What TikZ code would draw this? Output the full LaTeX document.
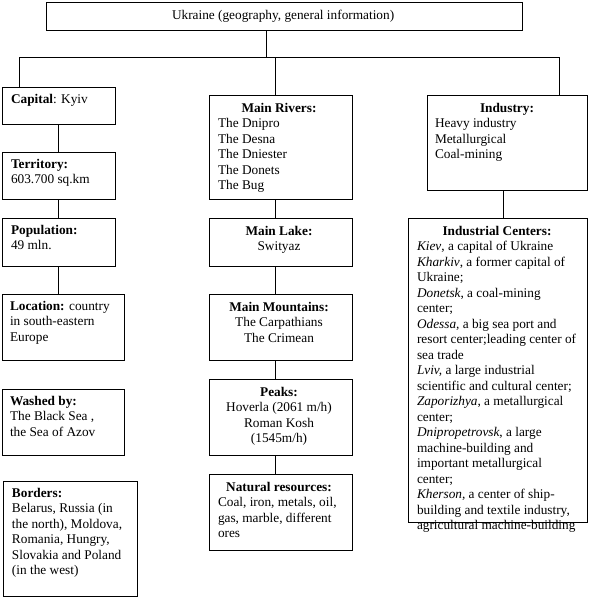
\documentclass[tikz,border=0pt]{standalone}
\usepackage{fontspec}
\setmainfont{Liberation Serif}
\newcommand\Sx{\rule{0pt}{11pt}}
\begin{document}
\begin{tikzpicture}[x=1pt,y=-1pt,
  box/.style={draw, line width=0.8pt, anchor=north west, inner sep=0pt, outer sep=0pt},
  txt/.style={inner sep=0pt, outer sep=0pt, font=\fontsize{13.3}{15.5}\selectfont},
  tl/.style={txt, align=left, anchor=north west},
  tc/.style={txt, align=center, anchor=north},
  link/.style={line width=0.8pt}]
\useasboundingbox (0,0) rectangle (589,598);
% boxes
\node[box, minimum width=476pt, minimum height=28pt] (top) at (46,2) {};
\node[box, minimum width=113pt, minimum height=37pt] (capital) at (2,87) {};
\node[box, minimum width=113pt, minimum height=47pt] (territory) at (2,152) {};
\node[box, minimum width=113pt, minimum height=48pt] (population) at (2,218) {};
\node[box, minimum width=122pt, minimum height=66pt] (location) at (2,294) {};
\node[box, minimum width=122pt, minimum height=66pt] (washed) at (2,389) {};
\node[box, minimum width=134pt, minimum height=115pt] (borders) at (3,481) {};
\node[box, minimum width=143pt, minimum height=104pt] (rivers) at (209,95) {};
\node[box, minimum width=143pt, minimum height=48pt] (lake) at (209,218) {};
\node[box, minimum width=143pt, minimum height=66pt] (mountains) at (209,294) {};
\node[box, minimum width=143pt, minimum height=76pt] (peaks) at (209,379) {};
\node[box, minimum width=143pt, minimum height=76pt] (resources) at (209,474) {};
\node[box, minimum width=160pt, minimum height=95pt] (industry) at (427,95) {};
\node[box, minimum width=179pt, minimum height=304pt] (centers) at (408,218) {};
% texts
\node[tl] (ttop) at (172,8) {\Sx Ukraine (geography, general information)};
\node[tl] (tcapital) at (11,92) {\Sx\textbf{Capital}: Kyiv};
\node[tl] (tterritory) at (11,157) {\Sx\textbf{Territory:}\\603.700 sq.km};
\node[tl] (tpopulation) at (11,223) {\Sx\textbf{Population:}\\49 mln.};
\node[tl] (tlocation) at (10,299) {\Sx\textbf{Location:} country\\in south-eastern\\Europe};
\node[tl] (twashed) at (10,394) {\Sx\textbf{Washed by:}\\The Black Sea ,\\the Sea of Azov};
\node[tl] (tborders) at (12,486) {\Sx\textbf{Borders:}\\Belarus, Russia (in\\the north), Moldova,\\Romania, Hungry,\\Slovakia and Poland\\(in the west)};
\node[tc] (trivers) at (279,101) {\Sx\textbf{Main Rivers:}};
\node[tl] (triverlist) at (218,116.5) {\Sx The Dnipro\\The Desna\\The Dniester\\The Donets\\The Bug};
\node[tc] (tlake) at (279,224) {\Sx\textbf{Main Lake:}\\Swityaz};
\node[tc] (tmountains) at (279,300) {\Sx\textbf{Main Mountains:}\\The Carpathians\\The Crimean};
\node[tc] (tpeaks) at (279,385) {\Sx\textbf{Peaks:}\\Hoverla (2061 m/h)\\Roman Kosh\\(1545m/h)};
\node[tc] (tresources) at (279,480) {\Sx\textbf{Natural resources:}};
\node[tl] (tresourcelist) at (218,495.5) {\Sx Coal, iron, metals, oil,\\gas, marble, different\\ores};
\node[tc] (tindustry) at (507,101) {\Sx\textbf{Industry:}};
\node[tl] (tindustrylist) at (435,116.5) {\Sx Heavy industry\\Metallurgical\\Coal-mining};
\node[tc] (tcenters) at (497,224) {\Sx\textbf{Industrial Centers:}};
\node[tl] (tcenterlist) at (417,239.5) {\Sx\textit{Kiev}, a capital of Ukraine\\
\textit{Kharkiv}, a former capital of\\Ukraine;\\
\textit{Donetsk}, a coal-mining\\center;\\
\textit{Odessa,} a big sea port and\\resort center;leading center of\\sea trade\\
\textit{Lviv,} a large industrial\\scientific and cultural center;\\
\textit{Zaporizhya}, a metallurgical\\center;\\
\textit{Dnipropetrovsk}, a large\\machine-building and\\important metallurgical\\center;\\
\textit{Kherson,} a center of ship-\\building and textile industry,\\agricultural machine-building};
% connectors
\coordinate (jT) at (266,57);
\coordinate (jL) at (19,57);
\coordinate (jM) at (275,57);
\coordinate (jR) at (559,57);
\coordinate (cL) at (58,0);
\coordinate (cM) at (275,0);
\coordinate (cR) at (503,0);
\draw[link] (top.south -| jT) -- (jT);
\draw[link] (capital.north -| jL) -- (jL) -- (jR) -- (industry.north -| jR);
\draw[link] (jM) -- (rivers.north -| jM);
\draw[link] (capital.south -| cL) -- (territory.north -| cL);
\draw[link] (territory.south -| cL) -- (population.north -| cL);
\draw[link] (population.south -| cL) -- (location.north -| cL);
\draw[link] (rivers.south -| cM) -- (lake.north -| cM);
\draw[link] (lake.south -| cM) -- (mountains.north -| cM);
\draw[link] (mountains.south -| cM) -- (peaks.north -| cM);
\draw[link] (peaks.south -| cM) -- (resources.north -| cM);
\draw[link] (industry.south -| cR) -- (centers.north -| cR);
\end{tikzpicture}
\end{document}
